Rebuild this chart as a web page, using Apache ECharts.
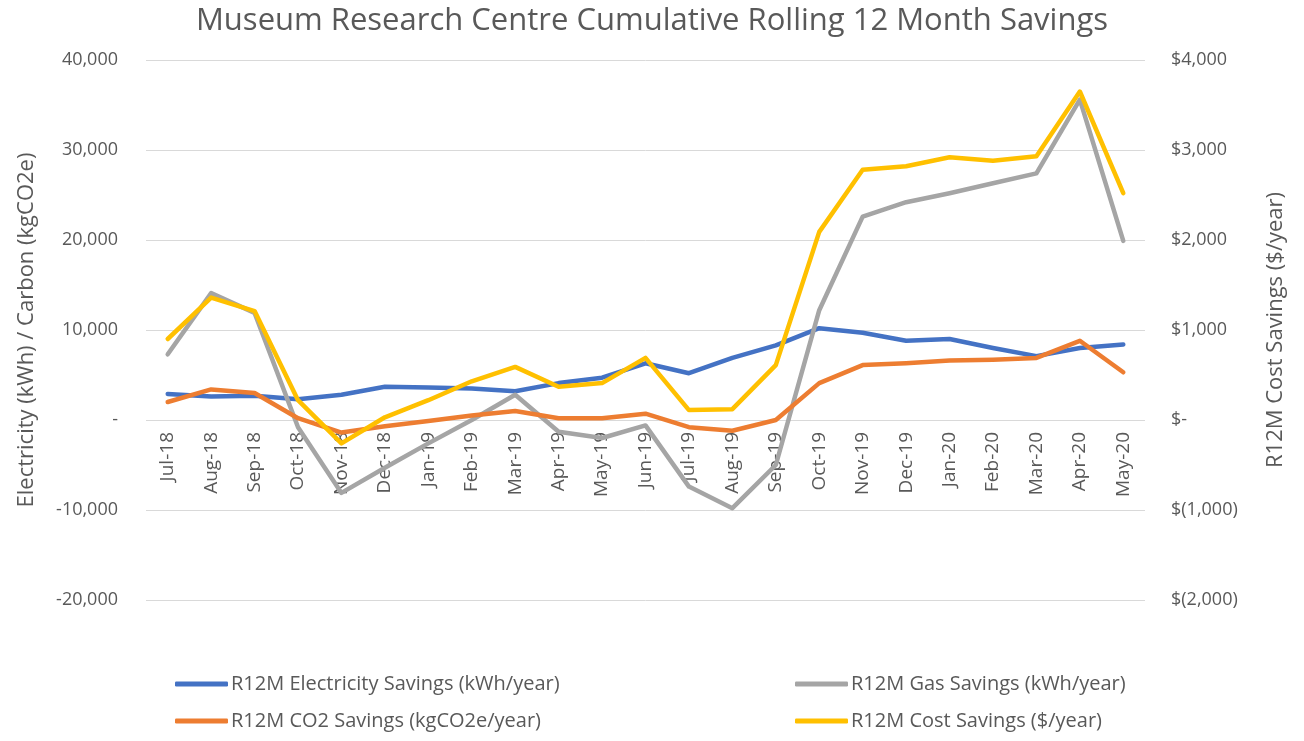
<!DOCTYPE html>
<html>
<head>
<meta charset="utf-8">
<script src="https://cdn.jsdelivr.net/npm/echarts@6/dist/echarts.min.js"></script>
<style>
  html, body { margin: 0; padding: 0; background: #fff; }
  #chart { width: 1304px; height: 741px; }
</style>
</head>
<body>
<div id="chart"></div>
<script>
// months on the x axis
var months = ["Jul-18", "Aug-18", "Sep-18", "Oct-18", "Nov-18", "Dec-18", "Jan-19", "Feb-19",
  "Mar-19", "Apr-19", "May-19", "Jun-19", "Jul-19", "Aug-19", "Sep-19", "Oct-19", "Nov-19",
  "Dec-19", "Jan-20", "Feb-20", "Mar-20", "Apr-20", "May-20"];

// left axis series (kWh / kgCO2e)
var elecSavings = [2900, 2600, 2700, 2300, 2800, 3700, 3600, 3500, 3200, 4100, 4700, 6300,
  5200, 6900, 8300, 10200, 9700, 8800, 9000, 8000, 7100, 8000, 8400];
var gasSavings = [7300, 14100, 11900, -800, -8100, -5300, -2600, 0, 2800, -1300, -2000, -600,
  -7400, -9800, -5000, 12200, 22600, 24200, 25200, 26300, 27400, 35600, 19900];
var co2Savings = [2000, 3400, 3000, 200, -1400, -700, -100, 500, 1000, 200, 200, 700,
  -800, -1200, 0, 4100, 6100, 6300, 6600, 6700, 6900, 8800, 5300];

// right axis series ($/year)
var costSavings = [900, 1360, 1210, 220, -260, 30, 220, 430, 590, 370, 410, 690,
  110, 120, 610, 2090, 2780, 2820, 2920, 2880, 2930, 3650, 2520];

var txt = "#595959";
var fontName = "'Open Sans', 'Noto Sans', sans-serif";

function fmtLeft(v) {
  if (v === 0) return "-";
  return v.toLocaleString("en-US");
}
function fmtRight(v) {
  if (v === 0) return "$-";
  if (v < 0) return "$(" + Math.abs(v).toLocaleString("en-US") + ")";
  return "$" + v.toLocaleString("en-US");
}

var chart = echarts.init(document.getElementById("chart"));

// one legend per item so the 2x2 layout lines up like the original
function legendAt(name, left, top) {
  return {
    data: [name],
    left: left,
    top: top,
    icon: "roundRect",
    itemWidth: 53,
    itemHeight: 5,
    itemGap: 4,
    textStyle: { color: txt, fontSize: 20, fontFamily: fontName, padding: [0, 0, 0, -2] }
  };
}

var option = {
  animation: false,
  textStyle: { fontFamily: fontName },
  title: {
    text: "Museum Research Centre Cumulative Rolling 12 Month Savings",
    left: "center",
    top: 1,
    textStyle: { color: txt, fontSize: 31, fontWeight: "normal", fontFamily: fontName }
  },
  legend: [
    legendAt("R12M Electricity Savings (kWh/year)", 170, 669),
    legendAt("R12M Gas Savings (kWh/year)", 790, 669),
    legendAt("R12M CO2 Savings (kgCO2e/year)", 170, 706),
    legendAt("R12M Cost Savings ($/year)", 790, 706)
  ],
  grid: { left: 146, right: 159, top: 60, bottom: 141 },
  xAxis: {
    type: "category",
    data: months,
    boundaryGap: true,
    position: "bottom",
    // labels sit on the zero line: zero is 180px above the grid bottom
    offset: -180,
    axisLine: { show: false, onZero: false },
    axisTick: { show: false },
    axisLabel: { rotate: 90, color: txt, fontSize: 19, margin: 12, interval: 0 }
  },
  yAxis: [
    {
      type: "value",
      min: -20000,
      max: 40000,
      interval: 10000,
      name: "Electricity (kWh) / Carbon (kgCO2e)",
      nameLocation: "middle",
      nameGap: 108,
      nameTextStyle: { color: txt, fontSize: 22 },
      axisLine: { show: false },
      axisTick: { show: false },
      axisLabel: { color: txt, fontSize: 18, margin: 28, formatter: fmtLeft },
      splitLine: { lineStyle: { color: "#d9d9d9", width: 1 } }
    },
    {
      type: "value",
      min: -2000,
      max: 4000,
      interval: 1000,
      name: "R12M Cost Savings ($/year)",
      nameLocation: "middle",
      nameGap: 120,
      nameRotate: 90,
      nameTextStyle: { color: txt, fontSize: 22 },
      axisLine: { show: false },
      axisTick: { show: false },
      axisLabel: { color: txt, fontSize: 18, margin: 26, formatter: fmtRight },
      splitLine: { show: false }
    }
  ],
  series: [
    {
      name: "R12M Electricity Savings (kWh/year)",
      type: "line",
      data: elecSavings,
      showSymbol: false,
      lineStyle: { width: 4.5, color: "#4472C4", cap: "round", join: "round" },
      itemStyle: { color: "#4472C4" }
    },
    {
      name: "R12M Gas Savings (kWh/year)",
      type: "line",
      data: gasSavings,
      showSymbol: false,
      lineStyle: { width: 4.5, color: "#A5A5A5", cap: "round", join: "round" },
      itemStyle: { color: "#A5A5A5" }
    },
    {
      name: "R12M CO2 Savings (kgCO2e/year)",
      type: "line",
      data: co2Savings,
      showSymbol: false,
      lineStyle: { width: 4.5, color: "#ED7D31", cap: "round", join: "round" },
      itemStyle: { color: "#ED7D31" }
    },
    {
      name: "R12M Cost Savings ($/year)",
      type: "line",
      yAxisIndex: 1,
      data: costSavings,
      showSymbol: false,
      lineStyle: { width: 4.5, color: "#FFC000", cap: "round", join: "round" },
      itemStyle: { color: "#FFC000" }
    }
  ]
};

chart.setOption(option);
</script>
</body>
</html>
